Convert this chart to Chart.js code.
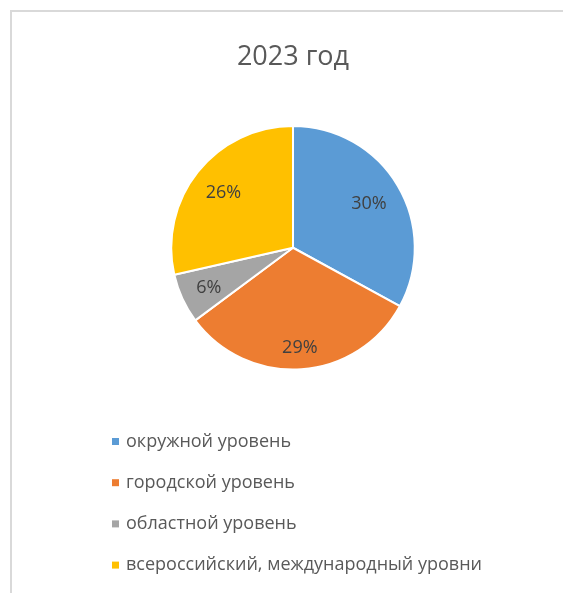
<!DOCTYPE html>
<html>
<head>
<meta charset="utf-8">
<script src="https://cdn.jsdelivr.net/npm/chart.js@4.4.1/dist/chart.umd.min.js"></script>
<style>
  html, body { margin: 0; padding: 0; background: #fff; }
  #wrap { position: relative; width: 563px; height: 593px; }
  #frame {
    position: absolute; left: 10px; top: 10px; right: 0; bottom: 0;
    border-left: 2px solid #d9d9d9; border-top: 2px solid #d9d9d9;
  }
  #chart { position: absolute; left: 0; top: 0; }
</style>
</head>
<body>
<div id="wrap">
  <div id="frame"></div>
  <canvas id="chart" width="563" height="593"></canvas>
</div>
<script>
// Данные диаграммы
const categories = [
  "окружной уровень",
  "городской уровень",
  "областной уровень",
  "всероссийский, международный уровни",
];
const values = [30, 29, 6, 26];
const colors = ["#5b9bd5", "#ed7d31", "#a5a5a5", "#ffc000"];
const chartTitle = "2023 год";

// подписи внутри секторов (как в Excel: внешний угол подписи у края)
const sliceLabels = {
  id: 'sliceLabels',
  afterDatasetsDraw(chart) {
    const ctx = chart.ctx;
    const meta = chart.getDatasetMeta(0);
    ctx.save();
    ctx.font = '18px "Open Sans"';
    ctx.fillStyle = '#404040';
    ctx.textAlign = 'center';
    ctx.textBaseline = 'middle';
    meta.data.forEach((arc, i) => {
      const p = arc.getProps(['x', 'y', 'startAngle', 'endAngle', 'outerRadius'], true);
      const mid = (p.startAngle + p.endAngle) / 2;
      const txt = values[i] + '%';
      const w = ctx.measureText(txt).width, h = 14;
      const cx = Math.cos(mid), cy = Math.sin(mid);
      const r = p.outerRadius * 0.88 - (Math.abs(cx) * w / 2 + Math.abs(cy) * h / 2);
      ctx.fillText(txt, p.x + cx * r, p.y + cy * r + 1);
    });
    ctx.restore();
  }
};

// легенда столбиком под кругом
const columnLegend = {
  id: 'columnLegend',
  afterDraw(chart) {
    const ctx = chart.ctx;
    ctx.save();
    ctx.font = '18px "Open Sans"';
    ctx.textBaseline = 'middle';
    categories.forEach((name, i) => {
      const y = 441.5 + i * 41.2;
      ctx.fillStyle = colors[i];
      ctx.fillRect(112, y - 3.5, 7, 7);
      ctx.fillStyle = '#595959';
      ctx.fillText(name, 126, y);
    });
    ctx.restore();
  }
};

new Chart(document.getElementById('chart'), {
  type: 'pie',
  plugins: [sliceLabels, columnLegend],
  data: {
    labels: categories,
    datasets: [{
      data: values,
      backgroundColor: colors,
      borderColor: '#ffffff',
      borderWidth: 2,
    }],
  },
  options: {
    responsive: false,
    animation: false,
    layout: { padding: { left: 23, top: 0, bottom: 222.5 } },
    plugins: {
      legend: { display: false },
      tooltip: { enabled: false },
      title: {
        display: true,
        text: chartTitle,
        color: '#595959',
        font: { family: '"Open Sans"', size: 27, weight: '400' },
        padding: { top: 41, bottom: 51.6 },
      },
    },
  },
});
</script>
</body>
</html>
